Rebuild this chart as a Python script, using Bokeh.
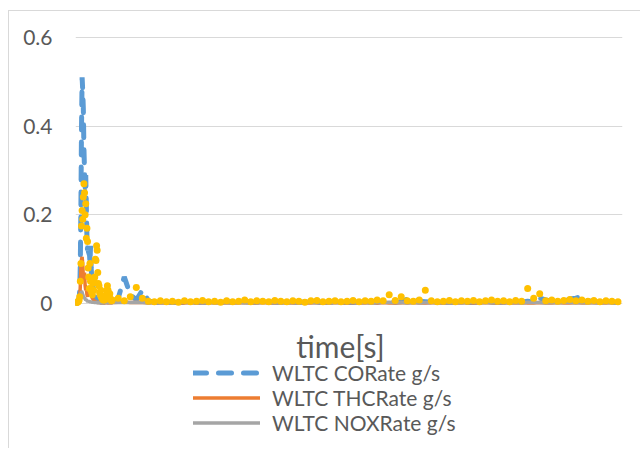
from bokeh.plotting import figure
from bokeh.models import (Legend, LegendItem, Label, Range1d,
                          FixedTicker, ColumnDataSource)
from bokeh.embed import file_html
from bokeh.resources import INLINE

# ---------------- data ----------------
t_early = list(range(0, 120, 2))          # seconds, dense start
t_late = list(range(120, 1801, 20))       # seconds, rest of cycle
time_s = t_early + t_late

co_early = [
    0.000, 0.000, 0.001, 0.002, 0.004, 0.010, 0.030, 0.090, 0.220, 0.400,
    0.510, 0.480, 0.440, 0.350, 0.300, 0.260, 0.290, 0.220, 0.150, 0.120,
    0.130, 0.100, 0.120, 0.090, 0.130, 0.080, 0.060, 0.070, 0.040, 0.030,
    0.020, 0.025, 0.015, 0.010, 0.008, 0.006, 0.005, 0.004, 0.006, 0.004,
    0.003, 0.004, 0.003, 0.002, 0.003, 0.002, 0.003, 0.002, 0.003, 0.002,
    0.003, 0.004, 0.003, 0.002, 0.003, 0.002, 0.003, 0.002, 0.003, 0.002]
co_late = [
    0.004, 0.012, 0.060, 0.020, 0.008, 0.030, 0.006, 0.003, 0.002, 0.003,
    0.002, 0.003, 0.002, 0.004, 0.002, 0.003, 0.002, 0.003, 0.002, 0.004,
    0.003, 0.002, 0.005, 0.002, 0.003, 0.002, 0.004, 0.002, 0.003, 0.002,
    0.003, 0.002, 0.004, 0.003, 0.002, 0.003, 0.002, 0.004, 0.002, 0.003,
    0.002, 0.003, 0.002, 0.004, 0.003, 0.005, 0.004, 0.003, 0.004, 0.010,
    0.012, 0.005, 0.004, 0.003, 0.002, 0.003, 0.002, 0.003, 0.004, 0.002,
    0.003, 0.002, 0.004, 0.003, 0.002, 0.003, 0.002, 0.004, 0.003, 0.005,
    0.004, 0.012, 0.008, 0.005, 0.006, 0.004, 0.010, 0.012, 0.016, 0.006,
    0.004, 0.003, 0.004, 0.002, 0.003]

thc_early = [
    0.000, 0.000, 0.000, 0.001, 0.002, 0.004, 0.010, 0.040, 0.080, 0.100,
    0.105, 0.090, 0.060, 0.050, 0.070, 0.040, 0.030, 0.035, 0.020, 0.015,
    0.030, 0.020, 0.035, 0.025, 0.030, 0.020, 0.015, 0.012, 0.010, 0.008,
    0.006, 0.005, 0.004, 0.003, 0.003, 0.002, 0.002, 0.002, 0.003, 0.002,
    0.002, 0.001, 0.002, 0.001, 0.002, 0.001, 0.002, 0.001, 0.001, 0.002,
    0.001, 0.002, 0.001, 0.001, 0.002, 0.001, 0.001, 0.002, 0.001, 0.001]
thc_late = [
    0.002, 0.003, 0.004, 0.002, 0.002, 0.003, 0.001, 0.002, 0.001, 0.001,
    0.002, 0.001, 0.001, 0.002, 0.001, 0.001, 0.002, 0.001, 0.001, 0.002,
    0.001, 0.001, 0.002, 0.001, 0.001, 0.002, 0.001, 0.001, 0.002, 0.001,
    0.001, 0.002, 0.001, 0.001, 0.002, 0.001, 0.001, 0.002, 0.001, 0.001,
    0.002, 0.001, 0.001, 0.002, 0.001, 0.002, 0.001, 0.001, 0.002, 0.001,
    0.002, 0.001, 0.001, 0.002, 0.001, 0.001, 0.002, 0.001, 0.001, 0.002,
    0.001, 0.001, 0.002, 0.001, 0.001, 0.002, 0.001, 0.001, 0.002, 0.001,
    0.001, 0.002, 0.001, 0.001, 0.002, 0.001, 0.001, 0.002, 0.001, 0.001,
    0.002, 0.001, 0.001, 0.002, 0.001]

nox_early = [
    0.000, 0.000, 0.001, 0.001, 0.002, 0.004, 0.008, 0.015, 0.022, 0.028,
    0.025, 0.020, 0.016, 0.012, 0.014, 0.010, 0.008, 0.009, 0.006, 0.005,
    0.006, 0.004, 0.005, 0.004, 0.003, 0.004, 0.003, 0.003, 0.002, 0.003,
    0.002, 0.002, 0.003, 0.002, 0.002, 0.002, 0.001, 0.002, 0.002, 0.001,
    0.002, 0.001, 0.002, 0.002, 0.001, 0.002, 0.001, 0.002, 0.001, 0.002,
    0.001, 0.002, 0.002, 0.001, 0.002, 0.001, 0.002, 0.001, 0.002, 0.001]
nox_late = [
    0.002, 0.003, 0.002, 0.002, 0.003, 0.002, 0.001, 0.002, 0.001, 0.002,
    0.001, 0.002, 0.002, 0.001, 0.002, 0.001, 0.002, 0.001, 0.002, 0.002,
    0.001, 0.002, 0.001, 0.002, 0.001, 0.002, 0.002, 0.001, 0.002, 0.001,
    0.002, 0.001, 0.002, 0.002, 0.001, 0.002, 0.001, 0.002, 0.001, 0.002,
    0.002, 0.001, 0.002, 0.001, 0.002, 0.002, 0.003, 0.002, 0.002, 0.001,
    0.002, 0.001, 0.002, 0.002, 0.001, 0.002, 0.001, 0.002, 0.001, 0.002,
    0.002, 0.001, 0.002, 0.001, 0.002, 0.002, 0.001, 0.002, 0.001, 0.003,
    0.002, 0.002, 0.001, 0.002, 0.001, 0.002, 0.002, 0.001, 0.002, 0.001,
    0.002, 0.001, 0.002, 0.001, 0.001]

yel_early = [
    0.003, 0.002, 0.003, 0.004, 0.005, 0.008, 0.015, 0.050, 0.090, 0.175,
    0.210, 0.190, 0.240, 0.270, 0.250, 0.200, 0.225, 0.147, 0.170, 0.140,
    0.080, 0.060, 0.034, 0.090, 0.050, 0.030, 0.025, 0.020, 0.045, 0.030,
    0.050, 0.060, 0.100, 0.097, 0.130, 0.120, 0.070, 0.045, 0.040, 0.025,
    0.020, 0.030, 0.015, 0.012, 0.010, 0.008, 0.010, 0.008, 0.012, 0.010,
    0.020, 0.030, 0.040, 0.030, 0.020, 0.015, 0.022, 0.010, 0.008, 0.006]
yel_late = [
    0.008, 0.012, 0.006, 0.015, 0.036, 0.012, 0.005, 0.004, 0.006, 0.004,
    0.005, 0.003, 0.006, 0.004, 0.005, 0.007, 0.004, 0.005, 0.003, 0.006,
    0.004, 0.005, 0.008, 0.004, 0.006, 0.005, 0.004, 0.007, 0.005, 0.004,
    0.006, 0.005, 0.003, 0.006, 0.007, 0.004, 0.005, 0.006, 0.004, 0.005,
    0.007, 0.004, 0.006, 0.005, 0.008, 0.006, 0.020, 0.007, 0.015, 0.006,
    0.005, 0.008, 0.030, 0.006, 0.004, 0.005, 0.007, 0.004, 0.006, 0.005,
    0.007, 0.004, 0.006, 0.008, 0.005, 0.006, 0.004, 0.007, 0.005, 0.034,
    0.012, 0.022, 0.006, 0.008, 0.005, 0.007, 0.009, 0.006, 0.008, 0.005,
    0.007, 0.004, 0.006, 0.005, 0.004]

y_ticks = [0, 0.2, 0.4, 0.6]
y_tick_labels = ["0", "0.2", "0.4", "0.6"]
series_names = ["WLTC CORate g/s", "WLTC THCRate g/s", "WLTC NOXRate g/s"]
x_title = "time[s]"

# ---------------- plot ----------------
FONT = "Lato"
GREY_TXT = "#595959"

src = ColumnDataSource(dict(
    t=time_s,
    co=co_early + co_late,
    thc=thc_early + thc_late,
    nox=nox_early + nox_late,
    yel=yel_early + yel_late,
))

# frame spans the plot area plus the space below it (for title + legend)
p = figure(width=632, height=438, output_backend="svg", toolbar_location=None,
           x_range=Range1d(-2, 1815), y_range=Range1d(-0.3293, 0.6383),
           min_border_left=66, min_border_right=19, min_border_top=9,
           min_border_bottom=0, margin=(10, 0, 0, 8),
           styles={"border-left": "1px solid #d9d9d9",
                   "border-top": "1px solid #d9d9d9"})
p.xaxis.visible = False
p.xgrid.visible = False
p.ygrid.grid_line_color = "#d9d9d9"
p.ygrid.grid_line_width = 1
p.outline_line_color = None
p.background_fill_color = "white"
p.border_fill_color = "white"

ax = p.yaxis[0]
ax.ticker = FixedTicker(ticks=y_ticks)
ax.major_label_overrides = {k: v for k, v in zip(y_ticks, y_tick_labels)}
ax.axis_line_color = None
ax.major_tick_line_color = None
ax.minor_tick_line_color = None
ax.major_tick_out = 0
ax.major_label_standoff = 23
ax.major_label_text_font = FONT
ax.major_label_text_font_size = "21px"
ax.major_label_text_color = GREY_TXT

r_co = p.line("t", "co", source=src, line_color="#5B9BD5", line_width=5,
              line_dash="13 12", line_cap="round")
r_thc = p.line("t", "thc", source=src, line_color="#ED7D31", line_width=3.5,
               line_cap="round")
r_nox = p.line("t", "nox", source=src, line_color="#A5A5A5", line_width=3.5,
               line_cap="round")
p.scatter("t", "yel", source=src, size=7, fill_color="#FFC000",
          line_color=None)

legend = Legend(items=[LegendItem(label=series_names[0], renderers=[r_co]),
                       LegendItem(label=series_names[1], renderers=[r_thc]),
                       LegendItem(label=series_names[2], renderers=[r_nox])],
                location=(118, 14), orientation="vertical",
                glyph_width=67, glyph_height=25, label_height=25,
                label_standoff=12, spacing=0, padding=0, margin=0,
                label_text_font=FONT, label_text_font_size="21px",
                label_text_color=GREY_TXT, border_line_color=None,
                background_fill_alpha=0)
p.add_layout(legend, "center")

p.add_layout(Label(x=265, y=104, x_units="screen", y_units="screen",
                   text=x_title, text_align="center",
                   text_baseline="alphabetic", text_font=FONT,
                   text_font_size="30px", text_color=GREY_TXT))

open("out.html", "w").write(file_html(p, INLINE))
